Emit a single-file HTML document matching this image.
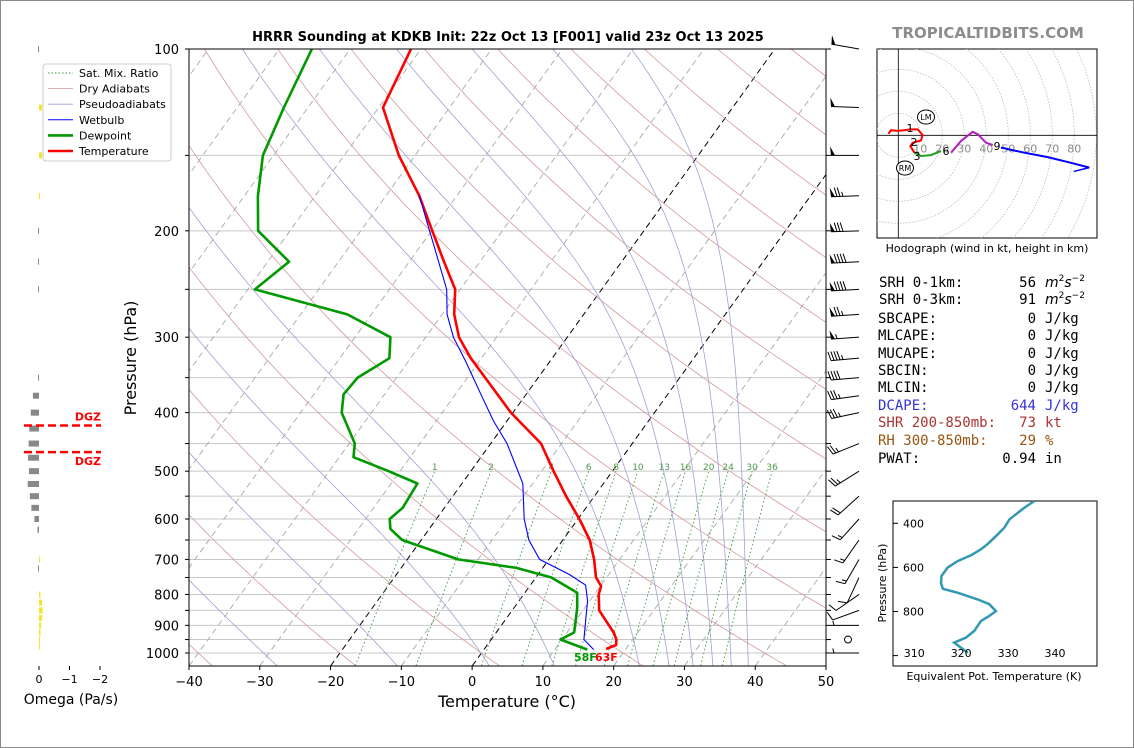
<!DOCTYPE html>
<html><head><meta charset="utf-8"><title>HRRR Sounding KDKB</title>
<style>
html,body{margin:0;padding:0;background:#fff;}
#wrap{position:relative;width:1134px;height:748px;overflow:hidden;background:#fff;box-sizing:border-box;border:1px solid #8a8a8a;}
svg{position:absolute;left:0;top:0;}
text{font-family:"DejaVu Sans","Liberation Sans",sans-serif;}
.mono{font-family:"DejaVu Sans Mono","Liberation Mono",monospace;font-size:14px;}
</style></head>
<body>
<div id="wrap">
<svg id="fig" width="1134" height="748" viewBox="0 0 1134 748">
<defs>
<clipPath id="plotClip"><rect x="188" y="48" width="637" height="617"/></clipPath>
<clipPath id="hodoClip"><rect x="876" y="48" width="220" height="189"/></clipPath>
<clipPath id="theClip"><rect x="892" y="500" width="204" height="165"/></clipPath>
</defs>
<text x="507" y="40" text-anchor="middle" font-size="13" font-weight="bold">HRRR Sounding at KDKB Init: 22z Oct 13 [F001] valid 23z Oct 13 2025</text>
<text x="987" y="37" text-anchor="middle" font-size="15" font-weight="bold" fill="#8c8c8c">TROPICALTIDBITS.COM</text>
<g id="bg" clip-path="url(#plotClip)"></g>
<g id="curves" clip-path="url(#plotClip)"></g>
<g id="axes"></g>
<g id="barbs"></g>
<g id="omega"></g>
<g id="legend"></g>
<g id="hodo"></g>
<g id="stats"></g>
<g id="thetae"></g>
</svg>
</div>
<script>
// ===== Sounding data =====
const tempP = [100,125,150,175,200,225,250,275,300,325,350,400,450,500,550,600,650,700,750,775,800,850,900,925,950,970,985];
const tempT = [-71.4,-69.4,-62.3,-55.3,-49.9,-45.1,-40.7,-38.3,-35.3,-31.5,-27.5,-20.3,-12.9,-8.3,-4.0,0.2,3.8,6.4,8.5,10.1,10.6,12.3,15.2,16.6,17.7,18.2,17.2];
const dewP = [100,125,150,175,200,225,250,275,300,325,350,373,400,450,474,500,524,575,600,623,650,700,723,750,795,841,891,925,950,987];
const dewT = [-85.4,-83.4,-81.5,-78.1,-74.5,-67,-69,-53.4,-45,-43,-45.5,-45.8,-44.2,-39.2,-38,-31.6,-26.3,-25.9,-26.6,-25.5,-22.7,-12.8,-3.7,2.2,7.4,8.9,10.2,11,9.8,14.6];
const wetP = [175,208,250,275,300,329,373,413,450,524,600,650,700,741,772,820,868,950,987];
const wetT = [-55.3,-48.8,-41.9,-39.3,-36.1,-31.9,-26.4,-21.9,-17.7,-11.4,-7.6,-4.8,-1.3,4.4,7.8,9.7,11,13.1,15.5];
const sfcLabelT = "63F";
const sfcLabelTd = "58F";
// background line sets
const dryT0 = [-40,-20,0,20,40,60,80,100,120,140,160,180,200,220];
const moistT1050 = [-42,-27.6,-10.6,2.4,11.6,23.6,27.8,31.2,34,36.6,39];
const mixW = [1,2,4,6,8,10,13,16,20,24,30,36];
const isoT = [-130,-120,-110,-100,-90,-80,-70,-60,-50,-40,-30,-20,-10,0,10,20,30,40,50];
const gridP = [100,150,200,250,300,350,400,450,500,550,600,650,700,750,800,850,900,950,1000];
const yTickP = [100,200,300,400,500,600,700,800,900,1000];
const xTickT = [-40,-30,-20,-10,0,10,20,30,40,50];
// winds
const windP = [100,125,150,175,200,225,250,275,300,325,350,375,400,450,500,550,600,650,700,750,800,850,900,950,1000];
const windDir = [280,272,270,268,268,267,267,266,266,265,265,262,258,248,238,228,222,215,210,205,235,250,270,0,270];
const windSpd = [50,52,52,75,80,90,90,75,55,45,40,35,35,25,25,20,15,15,15,12,10,10,5,0,5];
// omega
const omegaP = [100,125,150,175,200,225,250,350,375,400,425,450,475,500,525,550,575,600,625,700,725,800,825,850,875,900,925,950,975];
const omegaV = [0.01,-0.1,-0.1,-0.03,0.02,0.01,0.01,0.02,0.2,0.27,0.32,0.34,0.36,0.33,0.37,0.3,0.25,0.15,0.05,-0.03,0.01,-0.05,-0.1,-0.12,-0.1,-0.07,-0.05,-0.03,-0.02];
const dgzP = [420,465];
// hodograph (kt)
const hodoU1 = [-4.5,-3.3,-0.3,2.7,5.5,8.8,11.1,10.3,6.5,5.5,7.3];
const hodoV1 = [0.7,2.3,2.0,2.3,2.7,2.7,0.1,-2.3,-3.4,-4.9,-7.9];
const hodoU2 = [7.3,10.3,14.9,19.4];
const hodoV2 = [-7.9,-9.4,-9.0,-7.1];
const hodoU3 = [24,28.5,33.8,36.1,39.9,42.9];
const hodoV3 = [-7.9,-2.6,1.6,0.5,-3.4,-4.4];
const hodoU4 = [46.7,57.3,67.9,78.5,86.8];
const hodoV4 = [-5.6,-7.9,-9.9,-12.5,-14.7];
const hodoRings = [10,20,30,40,50,60,70,80,90];
// theta-e
const thetaP = [299,329,382,420,450,495,518,545,571,601,639,672,697,715,745,767,798,820,843,888,919,941,987];
const thetaE = [335.6,333.5,330.3,329.2,327.8,325.6,324.2,322.1,319.3,317.1,315.8,315.7,316.1,319.3,323.5,326,327.4,326,324.2,322.8,321,318.5,321.4];
const thetaXTicks = [310,320,330,340];
const thetaYTicks = [400,600,800,1000];

// ===== helpers =====
const NS="http://www.w3.org/2000/svg";
function mk(tag, parent, attrs){const e=document.createElementNS(NS,tag);for(const k in attrs)e.setAttribute(k,attrs[k]);parent.appendChild(e);return e;}
function txt(parent,x,y,s,attrs){const e=mk('text',parent,Object.assign({x:x,y:y},attrs||{}));e.textContent=s;return e;}
const PX0=188, PX1=825, PY0=48, PY1=665, TPX=7.078, SKEW=0.72;
function yP(p){return PY0+604*Math.log10(p/100);}
function xT(T,p){return PX0+(T+40)*TPX+SKEW*(PY1-yP(p));}
function pathFrom(ps,ts){let d='';for(let i=0;i<ps.length;i++){d+=(i?'L':'M')+xT(ts[i],ps[i]).toFixed(1)+','+yP(ps[i]).toFixed(1);}return d;}
const bg=document.getElementById('bg'), cv=document.getElementById('curves'), ax=document.getElementById('axes');

// grid
for(const p of gridP){const l=mk('line',bg,{x1:PX0,x2:PX1,y1:yP(p),y2:yP(p),stroke:'#c8c8c8','stroke-width':1});

}
// isotherms
for(const t of isoT){const blk=(t===0||t===-20);
const l=mk('line',bg,{x1:xT(t,1050),y1:yP(1050),x2:xT(t,100),y2:yP(100),stroke:blk?'#000':'#a8a8a8','stroke-width':blk?1:0.9,'stroke-dasharray':'6,4'});

}
// dry adiabats
for(const t0 of dryT0){const th=t0+273.15;let d='';for(let p=1050;p>=100;p-=10){const T=th*Math.pow(p/1000,0.2857)-273.15;d+=(p===1050?'M':'L')+xT(T,p).toFixed(1)+','+yP(p).toFixed(1);}
const l=mk('path',bg,{d:d,fill:'none',stroke:'#d29a9a','stroke-width':0.8});

}
// moist adiabats
function dTdp(T,p){const Rd=287.04,cp=1005.7,Lv=2.501e6,eps=0.622;const es=6.112*Math.exp(17.67*(T-273.15)/(T-29.65));const rs=eps*es/(p-es);return ((Rd*T+Lv*rs)/p)/(cp+(Lv*Lv*rs*eps)/(Rd*T*T));}
for(const t0 of moistT1050){let T=t0+273.15;let p=1050;let d='M'+xT(t0,1050).toFixed(1)+','+yP(1050).toFixed(1);
while(p>100){const h=-5;const k1=dTdp(T,p);const k2=dTdp(T+k1*h,p+h);T+=0.5*(k1+k2)*h;p+=h;d+='L'+xT(T-273.15,p).toFixed(1)+','+yP(p).toFixed(1);}
const l=mk('path',bg,{d:d,fill:'none',stroke:'#a0a0d8','stroke-width':0.8});

}
// mixing lines
function tdFromW(w,p){const e=w*p/(622+w);const L=Math.log(e/6.112);return 243.5*L/(17.67-L);}
for(const w of mixW){let d='';let i=0;for(let p=1050;p>=500;p-=10){d+=(i++?'L':'M')+xT(tdFromW(w,p),p).toFixed(1)+','+yP(p).toFixed(1);}
const l=mk('path',bg,{d:d,fill:'none',stroke:'#3c9a3c','stroke-width':0.9,'stroke-dasharray':'1.5,2.5'});


const t=txt(bg,xT(tdFromW(w,500),500),yP(500)-1,String(w),{'text-anchor':'middle','font-size':9,fill:'#4c9a4c'});

}
// curves
const cT=mk('path',cv,{d:pathFrom(tempP,tempT),fill:'none',stroke:'#ff0000','stroke-width':2.6,'stroke-linejoin':'round'});


const cD=mk('path',cv,{d:pathFrom(dewP,dewT),fill:'none',stroke:'#009900','stroke-width':2.6,'stroke-linejoin':'round'});


const cW=mk('path',cv,{d:pathFrom(wetP,wetT),fill:'none',stroke:'#0000ff','stroke-width':1.1});


const sT=txt(cv,594,660,sfcLabelT,{'font-size':11,'font-weight':'bold',fill:'#ff0000'});


const sD=txt(cv,573,660,sfcLabelTd,{'font-size':11,'font-weight':'bold',fill:'#009900'});



// axes frame and ticks
const fr=mk('rect',ax,{x:PX0,y:PY0,width:PX1-PX0,height:PY1-PY0,fill:'none',stroke:'#000','stroke-width':1});


for(const t of xTickT){const x=PX0+(t+40)*TPX;mk('line',ax,{x1:x,x2:x,y1:PY1,y2:PY1+4,stroke:'#000'});
const e=txt(ax,x,685,(t<0?'\u2212':'')+Math.abs(t),{'text-anchor':'middle','font-size':13});

}
for(const p of gridP){mk('line',ax,{x1:PX0-4,x2:PX0,y1:yP(p),y2:yP(p),stroke:'#000'});mk('line',ax,{x1:PX1,x2:PX1+5,y1:yP(p),y2:yP(p),stroke:'#000'});}
for(const p of yTickP){const e=txt(ax,178,yP(p)+5,String(p),{'text-anchor':'end','font-size':13});

}
const xl=txt(ax,506,706,'Temperature (\u00B0C)',{'text-anchor':'middle','font-size':16});


const yl=txt(ax,0,0,'Pressure (hPa)',{'text-anchor':'middle','font-size':16,transform:'translate(135,357) rotate(-90)'});



// wind barbs
const bb=document.getElementById('barbs');
for(let i=0;i<windP.length;i++){const y=yP(windP[i]);const sx=858;
if(windSpd[i]<2.5){const c=mk('circle',bb,{cx:847,cy:y,r:3.5,fill:'none',stroke:'#000','stroke-width':1});

continue;}
const a=windDir[i]*Math.PI/180;
const vx=Math.sin(a), vy=-Math.cos(a);
const L=28;
const g=mk('g',bb,{});


const stx=sx+vx*L, sty=y+vy*L;
mk('line',g,{x1:sx,y1:y,x2:stx,y2:sty,stroke:'#000','stroke-width':1});
const px=-vy, py=vx;
let s=Math.round(windSpd[i]/5)*5;let pos=0;
while(s>=50){const b0x=stx-vx*pos,b0y=sty-vy*pos;const b1x=b0x-vx*4,b1y=b0y-vy*4;
mk('path',g,{d:`M${b0x},${b0y}L${b0x+px*9+vx*1},${b0y+py*9+vy*1}L${b1x},${b1y}Z`,fill:'#000'});pos+=5;s-=50;}
if(pos>0)pos+=1;
while(s>=10){const b0x=stx-vx*pos,b0y=sty-vy*pos;mk('line',g,{x1:b0x,y1:b0y,x2:b0x+px*9+vx*2.5,y2:b0y+py*9+vy*2.5,stroke:'#000','stroke-width':1});pos+=3;s-=10;}
if(s>=5){if(pos===0)pos=3;const b0x=stx-vx*pos,b0y=sty-vy*pos;mk('line',g,{x1:b0x,y1:b0y,x2:b0x+px*4.5+vx*1.2,y2:b0y+py*4.5+vy*1.2,stroke:'#000','stroke-width':1});}
}

// omega panel
const om=document.getElementById('omega');const OX0=38, OPX=30.5;
for(let i=0;i<omegaP.length;i++){const v=omegaV[i];const y=yP(omegaP[i]);const w=Math.max(Math.abs(v)*OPX,1);
const r=mk('rect',om,{x:v>0?OX0-w:OX0,y:y-3,width:w,height:6,fill:v>0?'#888888':'#f5e52a'});

}
for(const p of dgzP){const y=yP(p);const l=mk('line',om,{x1:23,x2:100,y1:y,y2:y,stroke:'#ff0000','stroke-width':2.5,'stroke-dasharray':'8,4'});

}
const d1=txt(om,100,yP(dgzP[0])-5,'DGZ',{'text-anchor':'end','font-size':11,'font-weight':'bold',fill:'#ff0000'});


const d2=txt(om,100,yP(dgzP[1])+13,'DGZ',{'text-anchor':'end','font-size':11,'font-weight':'bold',fill:'#ff0000'});


[0,-1,-2].forEach(v=>{const x=OX0-v*OPX;mk('line',om,{x1:x,x2:x,y1:665,y2:669,stroke:'#000'});
const e=txt(om,x,682,v===0?'0':'\u2212'+Math.abs(v),{'text-anchor':'middle','font-size':11});

});
const ot=txt(om,70,703,'Omega (Pa/s)',{'text-anchor':'middle','font-size':14});



// legend
const lg=document.getElementById('legend');
mk('rect',lg,{x:42,y:63,width:128,height:97,rx:3,fill:'#fff','fill-opacity':0.9,stroke:'#cccccc'});
const legItems=[['Sat. Mix. Ratio','#3c9a3c',1,'1.5,2'],['Dry Adiabats','#d29a9a',0.8,''],['Pseudoadiabats','#a0a0d8',0.8,''],['Wetbulb','#0000ff',1,''],['Dewpoint','#009900',2.6,''],['Temperature','#ff0000',2.6,'']];
legItems.forEach((it,i)=>{const y=72+i*15.6;const g=mk('g',lg,{});


mk('line',g,{x1:47,x2:72,y1:y,y2:y,stroke:it[1],'stroke-width':it[2],'stroke-dasharray':it[3]||'none'});
txt(g,78,y+4,it[0],{'font-size':11});});

// hodograph
const hd=document.getElementById('hodo');const HX=897.3,HY=134.3,HK=2.2;
mk('rect',hd,{x:876,y:48,width:220,height:189,fill:'#fff',stroke:'#000'});
const hc=mk('g',hd,{'clip-path':'url(#hodoClip)'});
for(const r of hodoRings){const c=mk('circle',hc,{cx:HX,cy:HY,r:r*HK,fill:'none',stroke:'#bbbbbb','stroke-dasharray':'1.5,1.5','stroke-width':0.8});

}
mk('line',hc,{x1:HX,x2:HX,y1:48,y2:237,stroke:'#000','stroke-width':0.8});
mk('line',hc,{x1:876,x2:1096,y1:HY,y2:HY,stroke:'#000','stroke-width':0.8});
for(const r of hodoRings.slice(0,8)){const e=txt(hc,HX+r*HK,HY+17,String(r),{'text-anchor':'middle','font-size':11,fill:'#8a8a8a'});

}
function hodoPath(us,vs,col,name){let d='';us.forEach((u,i)=>{d+=(i?'L':'M')+(HX+u*HK).toFixed(1)+','+(HY-vs[i]*HK).toFixed(1);});
const p=mk('path',hc,{d:d,fill:'none',stroke:col,'stroke-width':2});

}
hodoPath(hodoU1,hodoV1,'#ff0000','hodograph-0-3km');
hodoPath(hodoU2,hodoV2,'#22a022','hodograph-3-6km');
hodoPath(hodoU3,hodoV3,'#b020c0','hodograph-6-9km');
hodoPath(hodoU4,hodoV4,'#0000ff','hodograph-9km-plus');
{const n=hodoU4.length;const ex=HX+hodoU4[n-1]*HK,ey=HY-hodoV4[n-1]*HK;const px=HX+hodoU4[n-2]*HK,py=HY-hodoV4[n-2]*HK;
const ang=Math.atan2(ey-py,ex-px);const a1=ang+Math.PI-0.5;
mk('line',hc,{x1:ex,y1:ey,x2:ex+Math.cos(a1)*16,y2:ey+Math.sin(a1)*16,stroke:'#0000ff','stroke-width':1.5});}
[['1',909,131],['2',913,145],['3',916,159],['6',945,154],['9',996,149]].forEach(l=>{const e=txt(hc,l[1],l[2],l[0],{'text-anchor':'middle','font-size':11});

});
[['LM',925,116],['RM',904,167]].forEach(l=>{mk('ellipse',hc,{cx:l[1],cy:l[2],rx:8.5,ry:7,fill:'#fff',stroke:'#000'});
const e=txt(hc,l[1],l[2]+3,l[0],{'text-anchor':'middle','font-size':8});

});
const hcap=txt(hd,986,251,'Hodograph (wind in kt, height in km)',{'text-anchor':'middle','font-size':11});



// stats
const st=document.getElementById('stats');
const rows=[['SRH 0-1km:','56','m2s-2','#000',878,286],['SRH 0-3km:','91','m2s-2','#000',878,303],['SBCAPE:','0','J/kg','#000',877,322],['MLCAPE:','0','J/kg','#000',877,339],['MUCAPE:','0','J/kg','#000',877,357],['SBCIN:','0','J/kg','#000',877,374],['MLCIN:','0','J/kg','#000',877,391],['DCAPE:','644','J/kg','#3333dd',877,409],['SHR 200-850mb:','73','kt','#aa3333',877,426],['RH 300-850mb:','29','%','#995511',877,444],['PWAT:','0.94','in','#000',877,462]];
rows.forEach(r=>{const g=mk('g',st,{});


txt(g,r[4],r[5],r[0],{'class':'mono',fill:r[3]});
txt(g,1035,r[5],r[1],{'class':'mono','text-anchor':'end',fill:r[3]});
if(r[2]==='m2s-2'){const t=txt(g,1044,r[5],'',{'font-size':14,fill:r[3]});
const a=mk('tspan',t,{'font-style':'italic'});a.textContent='m';const b=mk('tspan',t,{'font-size':9,dy:-6});b.textContent='2';
const c=mk('tspan',t,{'font-style':'italic','font-size':14,dy:6});c.textContent='s';const d=mk('tspan',t,{'font-size':9,dy:-6});d.textContent='\u22122';}
else txt(g,1044,r[5],r[2],{'class':'mono',fill:r[3]});});

// theta-e panel
const te=document.getElementById('thetae');
function tx(k){return 913.3+(k-310)*4.69;} function ty(p){return 522.3+(p-400)*0.2205;}
mk('rect',te,{x:892,y:500,width:204,height:165,fill:'#fff',stroke:'#000'});
let dd='';thetaE.forEach((k,i)=>{dd+=(i?'L':'M')+tx(k).toFixed(1)+','+ty(thetaP[i]).toFixed(1);});
const tc=mk('path',te,{d:dd,fill:'none',stroke:'#3399b3','stroke-width':2.5,'clip-path':'url(#theClip)'});


for(const k of thetaXTicks){const e=txt(te,tx(k),656,String(k),{'text-anchor':'middle','font-size':11});

}
for(const p of thetaYTicks){mk('line',te,{x1:892,x2:897,y1:ty(p),y2:ty(p),stroke:'#000'});
if(p<1000){const e=txt(te,923,ty(p)+4,String(p),{'text-anchor':'end','font-size':11});

}}
const tyl=txt(te,0,0,'Pressure (hPa)',{'text-anchor':'middle','font-size':11,transform:'translate(885,582) rotate(-90)'});


const txl=txt(te,993,679,'Equivalent Pot. Temperature (K)',{'text-anchor':'middle','font-size':11});


</script>
</body></html>
